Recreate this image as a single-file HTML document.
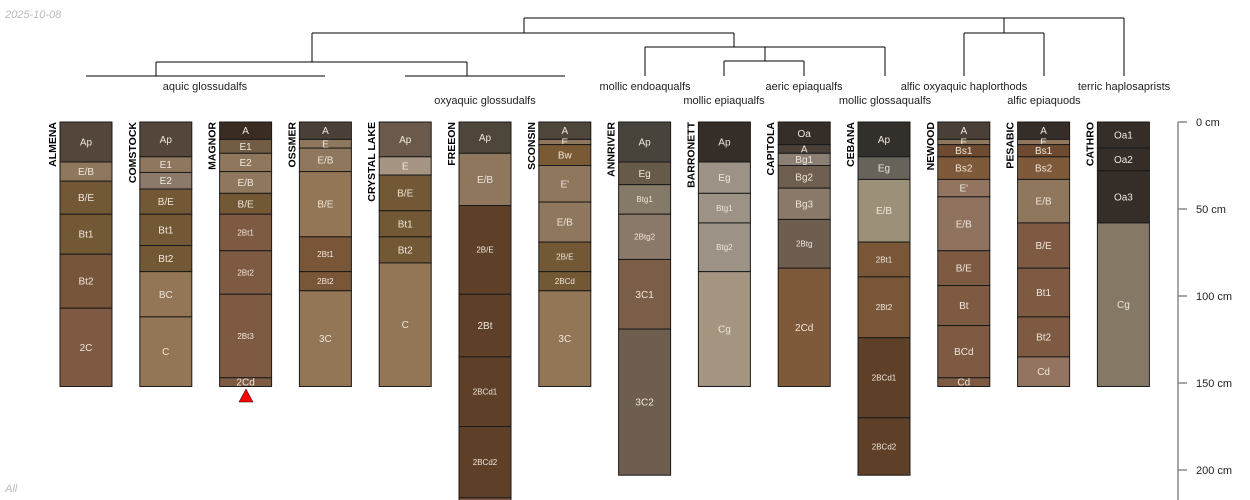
<!DOCTYPE html>
<html><head><meta charset="utf-8"><style>
html,body{margin:0;padding:0;background:#fff;}
svg{display:block;font-family:"Liberation Sans",sans-serif;}
</style></head><body>
<svg id="chart" width="1250" height="500" viewBox="0 0 1250 500" xmlns="http://www.w3.org/2000/svg">
<text x="5" y="18" font-size="11" font-style="italic" fill="#bbb">2025-10-08</text>
<text x="5" y="492" font-size="11" font-style="italic" fill="#bbb">All</text>
<g id="dendro" stroke="#000" stroke-width="1" fill="none">
<path d="M524 18H1124M524 18V33M1124 18V76M312 33H734M312 33V62M734 33V47M156 62H467M156 62V76M467 62V76M86 76H325M405 76H565M645 47H885M645 47V76M885 47V76M765 47V61M724 61H804M724 61V76M804 61V76M1004 18V33M964 33H1044M964 33V76M1044 33V76"/>
</g>
<g font-size="11" fill="#222" text-anchor="middle">
<text x="205" y="90">aquic glossudalfs</text>
<text x="485" y="104">oxyaquic glossudalfs</text>
<text x="645" y="90">mollic endoaqualfs</text>
<text x="724" y="104">mollic epiaqualfs</text>
<text x="804" y="90">aeric epiaqualfs</text>
<text x="885" y="104">mollic glossaqualfs</text>
<text x="964" y="90">alfic oxyaquic haplorthods</text>
<text x="1044" y="104">alfic epiaquods</text>
<text x="1124" y="90">terric haplosaprists</text>
</g>
<g id="profiles"></g>
<g id="axis"></g>
<polygon points="239,402 253,402 246,389" fill="#ff0000" stroke="#000" stroke-width="0.5"/>
</svg>
<script>
const profileNames = ["ALMENA","COMSTOCK","MAGNOR","OSSMER","CRYSTAL LAKE","FREEON","SCONSIN","ANNRIVER","BARRONETT","CAPITOLA","CEBANA","NEWOOD","PESABIC","CATHRO"];
const horizonNames = [
 ["Ap","E/B","B/E","Bt1","Bt2","2C"],
 ["Ap","E1","E2","B/E","Bt1","Bt2","BC","C"],
 ["A","E1","E2","E/B","B/E","2Bt1","2Bt2","2Bt3","2Cd"],
 ["A","E","E/B","B/E","2Bt1","2Bt2","3C"],
 ["Ap","E","B/E","Bt1","Bt2","C"],
 ["Ap","E/B","2B/E","2Bt","2BCd1","2BCd2",""],
 ["A","E","Bw","E'","E/B","2B/E","2BCd","3C"],
 ["Ap","Eg","Btg1","2Btg2","3C1","3C2"],
 ["Ap","Eg","Btg1","Btg2","Cg"],
 ["Oa","A","Bg1","Bg2","Bg3","2Btg","2Cd"],
 ["Ap","Eg","E/B","2Bt1","2Bt2","2BCd1","2BCd2"],
 ["A","E","Bs1","Bs2","E'","E/B","B/E","Bt","BCd","Cd"],
 ["A","E","Bs1","Bs2","E/B","B/E","Bt1","Bt2","Cd"],
 ["Oa1","Oa2","Oa3","Cg"]
];
const horizonBottoms = [
 [23,34,53,76,107,152],
 [20,29,38.5,53,71,86,112,152],
 [10,18,28.5,41,53,74,99,147,152],
 [10,15,28.5,66,86,97,152],
 [20,30.5,51,66,81,152],
 [18,48,99,135,175,216,240],
 [10,13,25,46,69,86,97,152],
 [23,36,53,79,119,203],
 [23,41,58,86,152],
 [13,18,25,38,56,84,152],
 [20,33,69,89,124,170,203],
 [10,13,20,33,43,74,94,117,147,152],
 [10,13,20,33,58,84,112,135,152],
 [15,28,58,152]
];
const horizonColors = [
 ["#54463a","#8f775e","#735836","#735836","#76553a","#7f5a43"],
 ["#54463a","#8f775e","#8b7a6a","#735836","#735836","#735836","#937655","#937655"],
 ["#3a2c22","#735c44","#8f775e","#8f775e","#735836","#7f5a43","#7f5a43","#7f5a43","#7f5a43"],
 ["#4a4038","#8f775e","#8f775e","#937655","#7a5638","#7a5638","#937655"],
 ["#6b5a4b","#a69582","#735836","#735836","#735836","#937655"],
 ["#4e453b","#8f775e","#5e4029","#5e4029","#5e4029","#5e4029","#7f5a43"],
 ["#4e453b","#8f775e","#7a5a35","#8f775e","#8f775e","#735836","#735836","#937655"],
 ["#48443c","#685a48","#857968","#8a7868","#7a5e48","#6e5e50"],
 ["#352d28","#9c9386","#9c9386","#9c9386","#a49480"],
 ["#352d28","#4a4038","#8c8074","#6e5f50","#8a7868","#6e5e50","#7f5a3a"],
 ["#33302b","#67625a","#9c9178","#7a5638","#7a5638","#5e4029","#5e4029"],
 ["#4a4038","#8f775e","#6e4a30","#7f5a3a","#937460","#8f735f","#7f5a43","#7f5a43","#7f5a43","#7f5a43"],
 ["#352d28","#8f775e","#6e4a30","#7f5a3a","#8f775e","#7f5a43","#7f5a43","#7f5a43","#937460"],
 ["#352d28","#352d28","#352d28","#857966"]
];
const depthTicks = [0,50,100,150,200];

const NS = "http://www.w3.org/2000/svg";
const y0 = 122, pxPerCm = 1.74;
function yScale(d){ return y0 + d * pxPerCm; }
function xScale(i){ return 60 + i * 79.8; }
const colW = 52;
const gP = document.getElementById("profiles");
function mk(tag, attrs, parent){ const e = document.createElementNS(NS, tag); for (const k in attrs) e.setAttribute(k, attrs[k]); parent.appendChild(e); return e; }

profileNames.forEach((name, i) => {
  const x = xScale(i);
  const g = mk("g", {}, gP);
  
  
  const lab = mk("text", {x: 0, y: 0, transform: `translate(${x - 4},${y0}) rotate(-90)`, "text-anchor": "end", "font-size": "10.5", "font-weight": "bold", fill: "#000"}, g);
  lab.textContent = name;
  
  
  let top = 0;
  horizonBottoms[i].forEach((bot, j) => {
    const yt = yScale(top), yb = Math.min(yScale(bot), 520);
    const r = mk("rect", {x: x, y: yt, width: colW, height: yb - yt, fill: horizonColors[i][j], stroke: "#1a1a1a", "stroke-width": "1"}, g);
    
    
    const hn = horizonNames[i][j];
    if (hn) {
      const fs = hn.length > 3 ? 8 : 10;
      const t = mk("text", {x: x + colW / 2, y: (yt + yb) / 2 + fs * 0.35, "text-anchor": "middle", "font-size": fs, fill: "#eee6dc"}, g);
      t.textContent = hn;
      
      
    }
    top = bot;
  });
});

const gA = document.getElementById("axis");
mk("line", {x1: 1178, x2: 1178, y1: yScale(0), y2: 500, stroke: "#888", "stroke-width": "1.5"}, gA);
depthTicks.forEach(d => {
  const tk = mk("line", {x1: 1178, x2: 1187, y1: yScale(d), y2: yScale(d), stroke: "#888", "stroke-width": "1.5"}, gA);
  
  
  const t = mk("text", {x: 1196, y: yScale(d) + 4, "font-size": "11", fill: "#222"}, gA);
  t.textContent = d + " cm";
  
  
});
</script>
</body></html>
